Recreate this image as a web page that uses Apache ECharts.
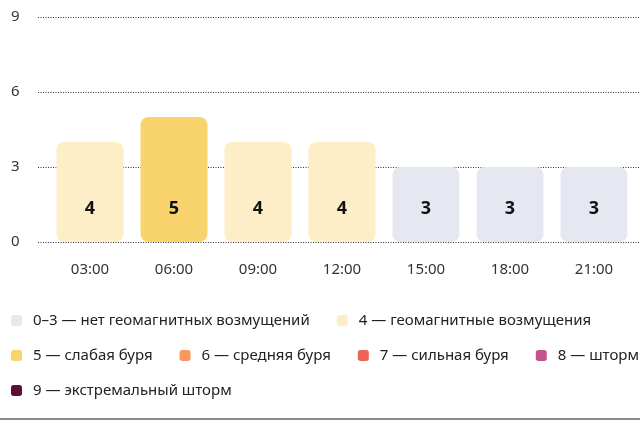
<!DOCTYPE html>
<html>
<head>
<meta charset="utf-8">
<script src="https://cdn.jsdelivr.net/npm/echarts@6/dist/echarts.min.js"></script>
<style>
html,body{margin:0;padding:0;background:#fff;}
#chart{width:640px;height:425px;}
</style>
</head>
<body>
<div id="chart"></div>
<script>
const times = ['03:00', '06:00', '09:00', '12:00', '15:00', '18:00', '21:00'];
const kpValues = [4, 5, 4, 4, 3, 3, 3];
const yTicks = [0, 3, 6, 9];
const levelNames = [
  '0–3 — нет геомагнитных возмущений',
  '4 — геомагнитные возмущения',
  '5 — слабая буря',
  '6 — средняя буря',
  '7 — сильная буря',
  '8 — шторм',
  '9 — экстремальный шторм'
];
const levelColors = ['#e6e8f1', '#fdeec8', '#f9d46d', '#f9985f', '#ef6355', '#c4528d', '#5c0f34'];
const legendRows = [[0, 1], [2, 3, 4, 5], [6]];

function levelIndex(v) { return v <= 3 ? 0 : v - 3; }

const chart = echarts.init(document.getElementById('chart'));
const font = 'Noto Sans';

const legends = legendRows.map((row, r) => ({
  data: row.map(i => levelNames[i]),
  left: 11,
  top: 313 + r * 35,
  padding: 0,
  orient: 'horizontal',
  icon: 'roundRect',
  itemWidth: 11,
  itemHeight: 11,
  itemGap: 27,
  selectedMode: false,
  itemStyle: { opacity: 1 },
  textStyle: { fontFamily: font, fontSize: 15, color: '#222', padding: [0, 0, 0, 6] }
}));

chart.setOption({
  animation: false,
  textStyle: { fontFamily: font },
  grid: [
    { left: 48, right: 4, top: 17, bottom: 183 },
    { left: 38, right: 0, top: 17, bottom: 183 }
  ],
  xAxis: [
    {
      type: 'category', gridIndex: 0, data: times,
      axisLine: { show: false }, axisTick: { show: false },
      axisLabel: { margin: 20, fontSize: 15, color: '#333', fontFamily: font }
    },
    { type: 'value', gridIndex: 1, show: false, min: 0, max: 1 }
  ],
  yAxis: [
    { type: 'value', gridIndex: 0, min: yTicks[0], max: yTicks[yTicks.length - 1], interval: 3, show: false },
    {
      type: 'value', gridIndex: 1, min: yTicks[0], max: yTicks[yTicks.length - 1], interval: 3,
      axisLine: { show: false }, axisTick: { show: false },
      axisLabel: { align: 'left', margin: 27, fontSize: 15, color: '#333', fontFamily: font },
      splitLine: { lineStyle: { color: '#333', width: 1, type: [1, 1.5] } }
    }
  ],
  legend: legends,
  graphic: [
    { type: 'rect', left: 0, top: 418, shape: { width: 640, height: 2 }, style: { fill: '#8a8a8a' }, silent: true }
  ],
  series: [
    {
      type: 'bar', name: 'Kp', xAxisIndex: 0, yAxisIndex: 0,
      barWidth: 67,
      data: kpValues.map(v => ({ value: v, itemStyle: { color: levelColors[levelIndex(v)] } })),
      itemStyle: { borderRadius: 8 },
      label: {
        show: true, position: 'insideBottom', distance: 24,
        fontSize: 18, fontWeight: 'bold', color: '#111', fontFamily: font
      },
      z: 3
    }
  ].concat(levelNames.map((n, i) => ({
    type: 'scatter', name: n, xAxisIndex: 1, yAxisIndex: 1, data: [],
    itemStyle: { color: levelColors[i], opacity: 1 }
  })))
});
</script>
</body>
</html>
